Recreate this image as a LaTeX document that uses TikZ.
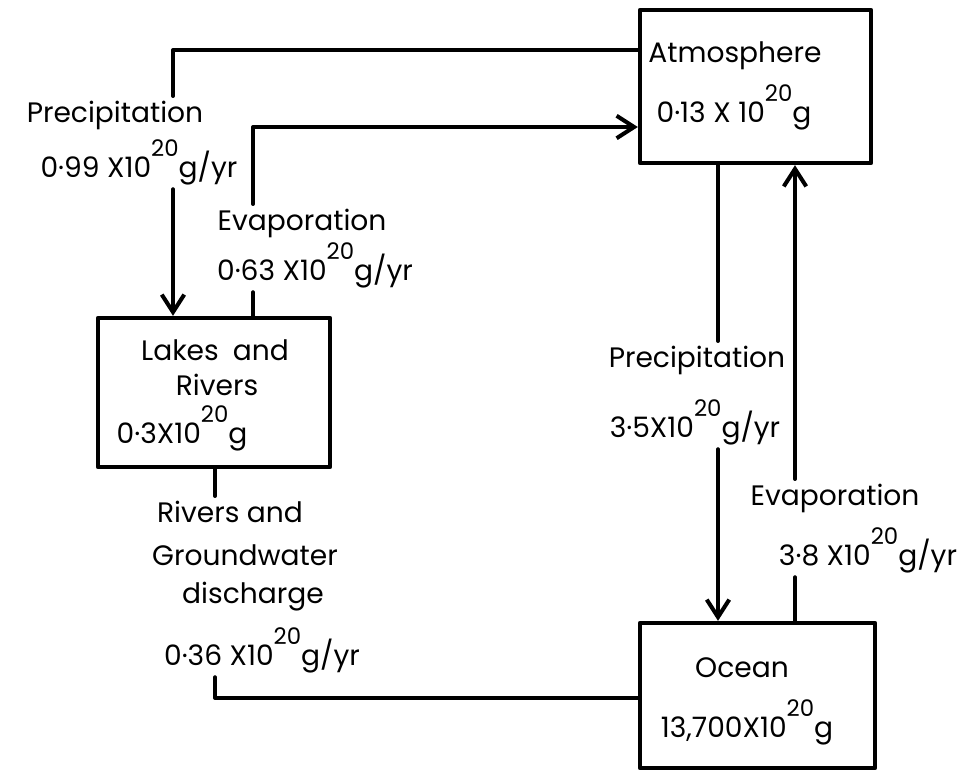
\documentclass[tikz,border=0pt]{standalone}
\usepackage{fontspec}
\setmainfont{Poppins}
\usetikzlibrary{arrows.meta}
\newcommand{\tenx}{10\raisebox{11.5pt}{\fontsize{13}{13}\selectfont 20}g}
\begin{document}
\begin{tikzpicture}[x=0.02cm, y=-0.02cm, line width=2.3pt, line join=round, line cap=round,
		>={Straight Barb[length=3.5mm,width=4.5mm]},
		font=\fontsize{16}{19}\selectfont,
		box/.style={draw, line width=2.5pt, inner sep=0pt},
		lbl/.style={anchor=base, inner sep=1.5pt}]
	\useasboundingbox (0,0) rectangle (968,772);
	% reservoirs
	\node[box, minimum width=4.62cm, minimum height=3.06cm] (atm) at (755.5,86.5) {};
	\node[box, minimum width=4.64cm, minimum height=2.98cm] (lakes) at (214,392.5) {};
	\node[box, minimum width=4.70cm, minimum height=2.90cm] (ocean) at (757.5,695.5) {};
	\node[lbl] (atmname) at (735,62) {Atmosphere};
	\node[lbl] (atmmass) at (734,122) {0·13 X \tenx};
	\node[lbl] (lkname) at (215,360) {Lakes\enspace and};
	\node[lbl] (lkriv) at (217,395) {Rivers};
	\node[lbl, anchor=base west] (lkmass) at (112,443) {0·3X\tenx};
	\node[lbl] (ocname) at (742,677) {Ocean};
	\node[lbl] (ocmass) at (747,737) {13,700X\tenx};
	% flux labels
	\node[lbl] (pl1) at (115,122) {Precipitation};
	\node[lbl] (pl2) at (139,177) {0·99 X\tenx/yr};
	\node[lbl] (el1) at (302,230) {Evaporation};
	\node[lbl] (el2) at (315,280) {0·63 X\tenx/yr};
	\node[lbl] (pr1) at (697,367) {Precipitation};
	\node[lbl] (pr2) at (695,437) {3·5X\tenx/yr};
	\node[lbl] (er1) at (835,505) {Evaporation};
	\node[lbl] (er2) at (868,565) {3·8 X\tenx/yr};
	\node[lbl] (rv1) at (230,522) {Rivers and};
	\node[lbl] (rv2) at (245,565) {Groundwater};
	\node[lbl] (rv3) at (253,603) {discharge};
	\node[lbl] (rv4) at (262,665) {0·36 X\tenx/yr};
	% fluxes
	\coordinate (pc) at (173,50);
	\coordinate (ec) at (253,127);
	\coordinate (prc) at (718,0);
	\coordinate (erc) at (795,0);
	\coordinate (rc) at (215,698);
	\draw (atm.west |- pc) -- (pc) -- (pl1.north -| pc);
	\draw[->] (pl2.south -| pc) -- (lakes.north -| pc);
	\draw (lakes.north -| ec) -- (el2.south -| ec);
	\draw[->] (el1.north -| ec) -- (ec) -- (atm.west |- ec);
	\draw (atm.south -| prc) -- (pr1.north -| prc);
	\draw[->] (pr2.south -| prc) -- (ocean.north -| prc);
	\draw (ocean.north -| erc) -- (er2.south -| erc);
	\draw[->] (er1.north -| erc) -- (atm.south -| erc);
	\draw (lakes.south -| rc) -- (rv1.north -| rc);
	\draw (rv4.south -| rc) -- (rc) -- (ocean.west |- rc);
\end{tikzpicture}
\end{document}
